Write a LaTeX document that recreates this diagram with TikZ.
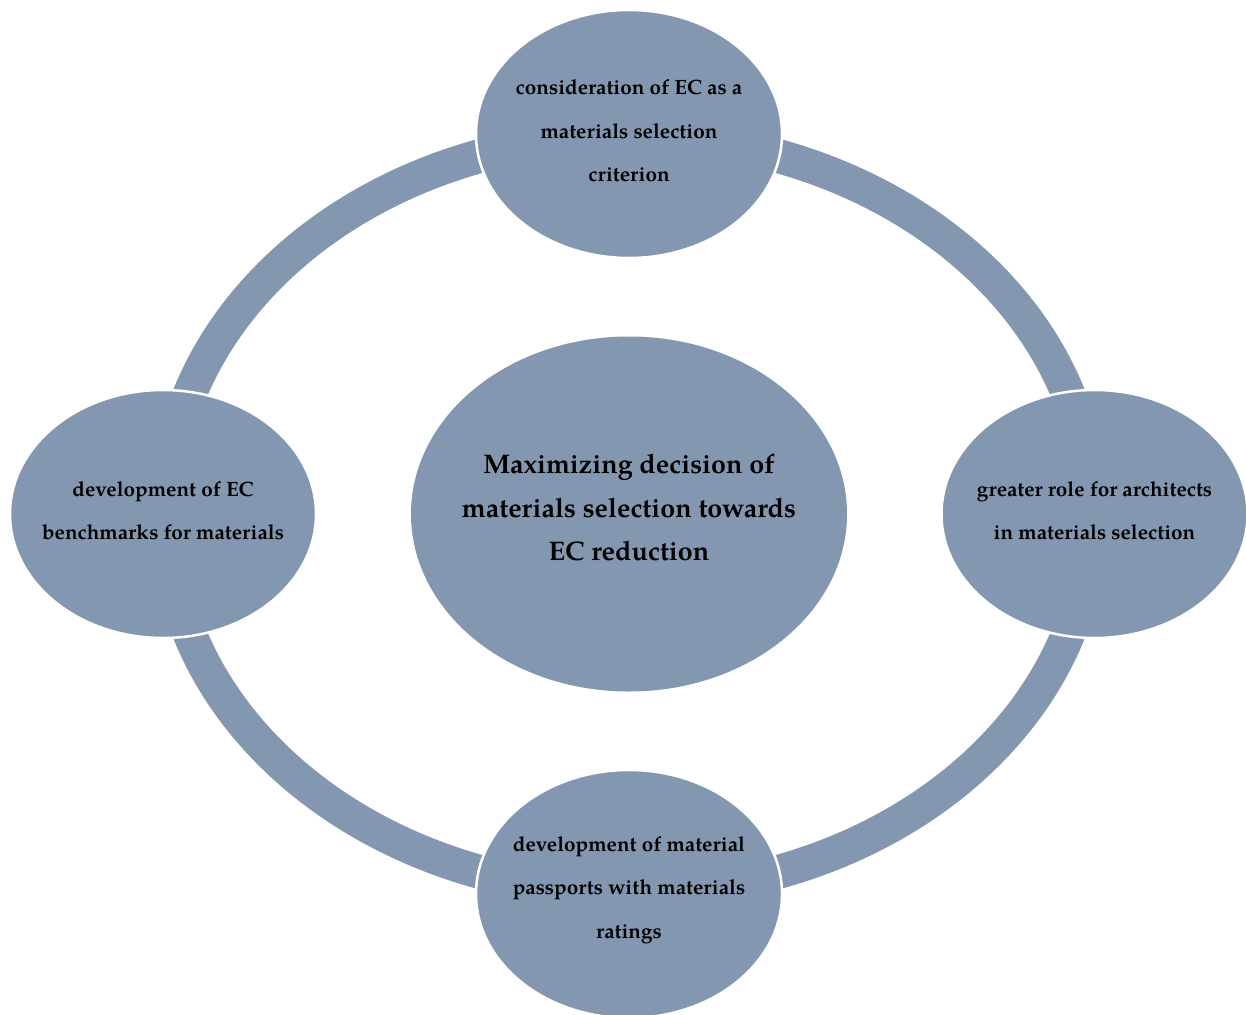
\documentclass[tikz,border=0pt]{standalone}
\usepackage{fontspec}
\setmainfont{texgyrepagella}[Extension=.otf, UprightFont=*-regular, BoldFont=*-bold, ItalicFont=*-italic, BoldItalicFont=*-bolditalic]
\usetikzlibrary{shapes.geometric}
\definecolor{nodefill}{RGB}{132,151,176}
\tikzset{
  ringline/.style={draw=nodefill, line width=34pt},
  sat/.style={ellipse, fill=nodefill, draw=white, line width=2.5pt, minimum width=306pt, minimum height=248pt, inner sep=0pt},
  hub/.style={ellipse, fill=nodefill, minimum width=436pt, minimum height=355pt, inner sep=0pt},
  sattext/.style={align=center, inner sep=0pt, text=black, font=\bfseries\fontsize{20.7}{43.5}\selectfont},
  hubtext/.style={align=center, inner sep=0pt, text=black, font=\bfseries\fontsize{26.9}{43.5}\selectfont},
}
\begin{document}
\begin{tikzpicture}[x=1pt,y=-1pt]
\useasboundingbox[fill=white] (0,0) rectangle (1246,1014);
\node[hub] (hub) at (629,514) {};
\draw[ringline] (hub.center) ellipse [x radius=463, y radius=378];
\node[sat] (top) at (629,134) {};
\node[sat] (left) at (163,514) {};
\node[sat] (right) at (1094.5,514) {};
\node[sat] (bottom) at (629,894) {};
\node[hubtext] (hubt) at ([yshift=6pt]hub.center) {Maximizing decision of\\materials selection towards\\EC reduction};
\node[sattext] (topt) at ([yshift=3pt]top.center) {consideration of EC as a\\materials selection\\criterion};
\node[sattext] (leftt) at ([yshift=3.5pt]left.center) {development of EC\\benchmarks for materials};
\node[sattext] (rightt) at ([yshift=3.5pt]right.center) {greater role for architects\\in materials selection};
\node[sattext] (bottomt) at ([yshift=4pt]bottom.center) {development of material\\passports with materials\\ratings};
\end{tikzpicture}
\end{document}
